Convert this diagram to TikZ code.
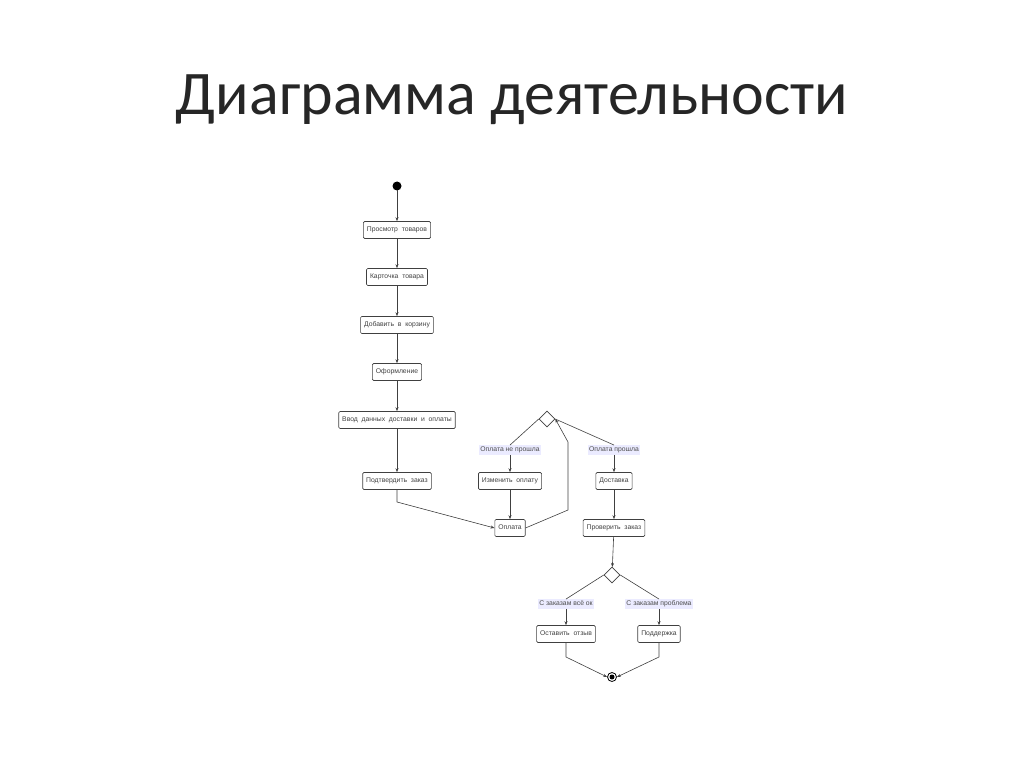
\documentclass[tikz,border=0pt]{standalone}
\usepackage{fontspec}
\setmainfont{Liberation Sans}
\newfontfamily\titlefont{Carlito}
\usetikzlibrary{arrows.meta,shapes.geometric}
\begin{document}
\begin{tikzpicture}[x=1pt,y=-1pt,
  act/.style={draw=black!75,line width=0.6pt,rounded corners=1.2pt,minimum height=17pt,text height=5pt,text depth=1.5pt,inner xsep=3.5pt,inner ysep=0pt,font=\fontsize{6.8}{7}\selectfont,text=black!75},
  lbl/.style={fill=blue!8,inner sep=1.5pt,text height=5pt,text depth=1.5pt,font=\fontsize{6.8}{7}\selectfont,text=black!70},
  dec/.style={draw=black!75,line width=0.6pt,diamond,minimum size=16pt,inner sep=0pt,fill=white},
  arr/.style={draw=black!75,line width=0.6pt,-{Stealth[length=4pt,width=3pt]}},
  ln/.style={draw=black!75,line width=0.6pt}]
\useasboundingbox (0,0) rectangle (1024,767);
\node[font=\titlefont\fontsize{62}{70}\selectfont,text=black!85] (title) at (512,100) {Диаграмма деятельности};
\fill (397,186) circle (4.5) coordinate (start);
\node[act] (a1) at (397,230) {Просмотр\ \ товаров};
\node[act] (a2) at (397,277) {Карточка\ \ товара};
\node[act] (a3) at (397,325) {Добавить\ \ в\ \ корзину};
\node[act] (a4) at (397,372) {Оформление};
\node[act] (a5) at (397,420) {Ввод\ \ данных\ \ доставки\ \ и\ \ оплаты};
\node[act] (a6) at (397,481) {Подтвердить\ \ заказ};
\node[dec] (d1) at (547,419) {};
\node[lbl] (l1) at (510,450) {Оплата не прошла};
\node[act] (b1) at (510,481) {Изменить\ \ оплату};
\node[act] (b2) at (510,528) {Оплата};
\node[lbl] (l2) at (614,450) {Оплата прошла};
\node[act] (c1) at (614,481) {Доставка};
\node[act] (c2) at (614,528) {Проверить\ \ заказ};
\node[dec] (d2) at (612,575) {};
\node[lbl] (l3) at (566,604) {С заказам всё ок};
\node[lbl] (l4) at (659,604) {С заказам проблема};
\node[act] (e1) at (566,634) {Оставить\ \ отзыв};
\node[act] (e2) at (659,634) {Поддержка};
\node[circle,draw=black,line width=0.8pt,minimum size=9pt,inner sep=0pt] (end) at (612,677) {};
\fill (end) circle (2.5);
\draw[arr] (397,190) -- (a1);
\draw[arr] (a1) -- (a2);
\draw[arr] (a2) -- (a3);
\draw[arr] (a3) -- (a4);
\draw[arr] (a4) -- (a5);
\draw[arr] (a5) -- (a6);
\draw[arr] (a6.south) -- (397,502) -- (b2.west);
\draw[arr] (b2.east) -- (568,510) -- (568,442) -- (d1.east);
\draw[ln] (d1.west) -- (l1.north);
\draw[ln] (d1.east) -- (l2.north);
\draw[arr] (l1) -- (b1);
\draw[arr] (b1) -- (b2);
\draw[arr] (l2) -- (c1);
\draw[arr] (c1) -- (c2);
\draw[arr] (c2) -- (d2);
\draw[ln] (d2.west) -- (l3.north);
\draw[ln] (d2.east) -- (l4.north);
\draw[arr] (l3) -- (e1);
\draw[arr] (l4) -- (e2);
\draw[arr] (e1.south) -- (566,657) -- (end.west);
\draw[arr] (e2.south) -- (659,657) -- (end.east);
\end{tikzpicture}
\end{document}
